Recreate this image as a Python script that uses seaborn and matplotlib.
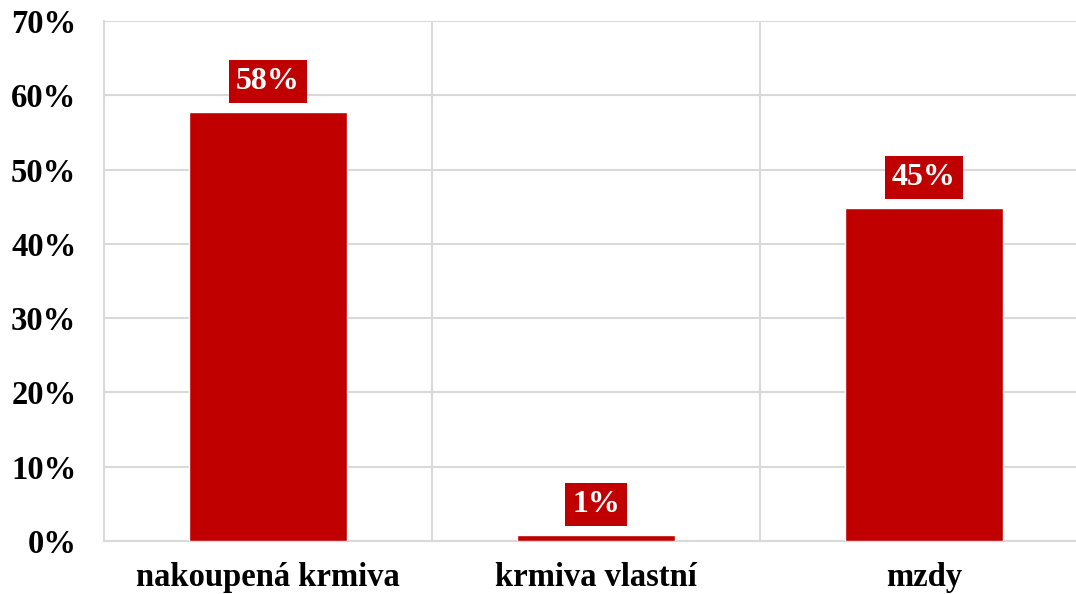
import matplotlib
matplotlib.use('Agg')
import matplotlib.pyplot as plt
import seaborn as sns
import pandas as pd
from matplotlib.ticker import PercentFormatter

categories = ['nakoupená krmiva', 'krmiva vlastní', 'mzdy']
values = [57.7, 0.8, 44.8]
yticks = [0, 10, 20, 30, 40, 50, 60, 70]

df = pd.DataFrame({'cat': categories, 'val': values})

sns.set_style('white')
plt.rcParams['font.family'] = ['Liberation Serif', 'DejaVu Serif']
plt.rcParams['font.weight'] = 'bold'
plt.rcParams['text.color'] = 'black'
plt.rcParams['xtick.color'] = 'black'
plt.rcParams['ytick.color'] = 'black'

red = '#C00000'
grid = '#D9D9D9'

fig = plt.figure(figsize=(10.76, 5.94), dpi=100)
# the plot area runs a little past the right edge of the figure
ax = fig.add_axes([0.0967, 0.0892, 0.9145, 0.8754])

sns.barplot(data=df, x='cat', y='val', color=red, width=0.479,
            saturation=1, ax=ax, zorder=3)

ax.set_xlim(-0.5, 2.5)
ax.set_ylim(0, 70)
ax.set_yticks(yticks)
ax.yaxis.set_major_formatter(PercentFormatter(decimals=0))
ax.set_xticks([0.5, 1.5], minor=True)
ax.grid(axis='y', which='major', color=grid, lw=1.5, zorder=0)
ax.grid(axis='x', which='minor', color=grid, lw=1.5, zorder=0)
ax.grid(axis='x', which='major', visible=False)

for s in ['top', 'right']:
    ax.spines[s].set_visible(False)
for s in ['left', 'bottom']:
    ax.spines[s].set_color(grid)
    ax.spines[s].set_linewidth(1.5)

ax.tick_params(axis='both', which='both', length=0, labelsize=23.5, colors='black')
ax.tick_params(axis='y', pad=20)
ax.tick_params(axis='x', pad=15)
for lab in ax.get_xticklabels() + ax.get_yticklabels():
    lab.set_fontweight('bold')
ax.set_xlabel('')
ax.set_ylabel('')

for i, v in enumerate(values):
    ax.annotate(f'{round(v)}%', (i, v), xytext=(0, 22), textcoords='offset points',
                ha='center', va='center', fontsize=23, fontweight='bold', color='white',
                bbox=dict(boxstyle='square,pad=0.22', fc=red, ec='none'), zorder=5)

fig.savefig('out.png', dpi=100)
